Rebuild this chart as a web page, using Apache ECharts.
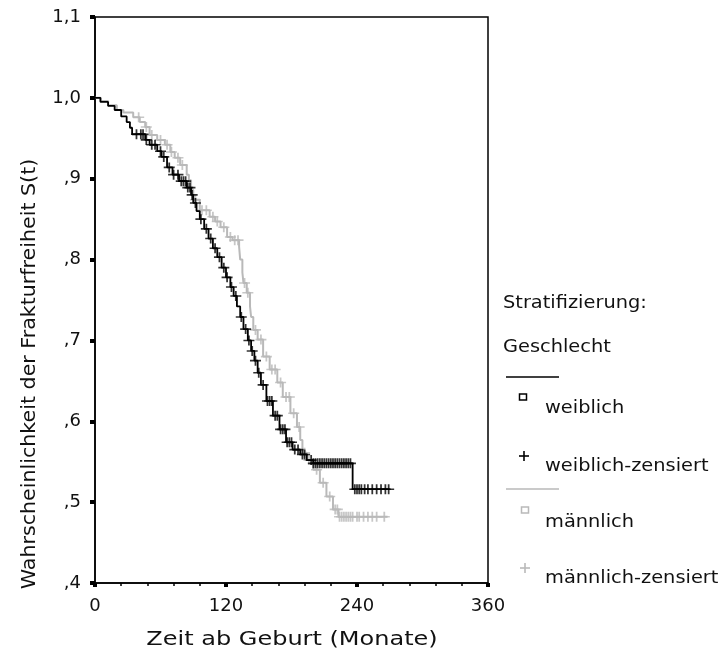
<!DOCTYPE html>
<html>
<head>
<meta charset="utf-8">
<script src="https://cdn.jsdelivr.net/npm/echarts@6/dist/echarts.min.js"></script>
<style>
  html, body { margin: 0; padding: 0; background: #fff; }
  #chart { width: 724px; height: 661px; }
</style>
</head>
<body>
<div id="chart"></div>
<script>
// Kaplan-Meier estimates of fracture-free survival, stratified by sex.
// Each pair of arrays: time of a step (months) and the survival level after it.
const femaleTimes = [0, 5, 12, 18, 24, 29, 32, 34, 46, 50, 57, 61, 66, 71, 77, 84, 88, 90, 93, 96,
  100, 104, 108, 112, 116, 120, 124, 127, 130, 133, 136, 140, 143, 146, 149, 152, 157, 163, 169,
  175, 181, 188, 194, 200, 236, 270];
const femaleSurv = [1.0, 0.995, 0.99, 0.985, 0.977, 0.97, 0.963, 0.955, 0.948, 0.942, 0.934, 0.927,
  0.914, 0.905, 0.897, 0.889, 0.88, 0.87, 0.86, 0.85, 0.838, 0.826, 0.814, 0.803, 0.79, 0.778,
  0.766, 0.755, 0.742, 0.729, 0.714, 0.70, 0.687, 0.675, 0.66, 0.645, 0.625, 0.607, 0.59, 0.574,
  0.565, 0.559, 0.552, 0.548, 0.516, 0.516];

const maleTimes = [0, 5, 12, 20, 26, 35, 41, 46, 50, 57, 64, 69, 73, 78, 84, 86, 88, 90, 96, 105,
  110, 115, 121, 126, 132, 133, 135, 136, 139, 142, 143, 145, 149, 154, 160, 167, 172, 179, 185,
  188, 190, 194, 200, 206, 212, 218, 223, 268];
const maleSurv = [1.0, 0.996, 0.991, 0.985, 0.982, 0.976, 0.97, 0.964, 0.954, 0.948, 0.942, 0.933,
  0.926, 0.917, 0.905, 0.898, 0.886, 0.874, 0.861, 0.853, 0.847, 0.84, 0.828, 0.824, 0.816, 0.80,
  0.784, 0.771, 0.759, 0.742, 0.729, 0.713, 0.701, 0.68, 0.664, 0.648, 0.63, 0.61, 0.593, 0.577,
  0.561, 0.552, 0.54, 0.524, 0.507, 0.491, 0.482, 0.482];

// Censoring times (months)
const femaleCensored = [38, 42, 44, 47, 52, 55, 60, 63, 68, 72, 76, 79, 81, 83, 85, 87, 89, 92, 97,
  102, 106, 110, 114, 118, 121, 125, 129, 134, 138, 141, 144, 147, 150, 154, 158, 160, 162, 165,
  167, 170, 172, 174, 176, 178, 180, 183, 186, 190, 192, 198, 200, 202, 204, 206, 208, 210, 212,
  214, 216, 218, 220, 222, 224, 226, 228, 230, 232, 234, 238, 240, 242, 244, 247, 250, 254, 258,
  262, 266, 269];
const maleCensored = [40, 47, 52, 60, 66, 70, 76, 80, 92, 98, 102, 108, 112, 118, 124, 128, 131, 137,
  140, 147, 152, 157, 162, 165, 170, 175, 178, 182, 187, 192, 196, 203, 209, 215, 220, 222, 224,
  226, 228, 230, 232, 234, 236, 240, 242, 246, 250, 254, 258, 265];

const seriesNames = ['weiblich', 'weiblich-zensiert', 'männlich', 'männlich-zensiert'];
const legendTitle = ['Stratifizierung:', 'Geschlecht'];
const xTicks = [0, 120, 240, 360];
const yRange = [0.4, 1.1];
const xTitle = 'Zeit ab Geburt (Monate)';
const yTitle = 'Wahrscheinlichkeit der Frakturfreiheit S(t)';

const BLACK = '#000000';
const GRAY = '#b9b9b9';
const INK = '#111111';
const FONT = 'DejaVu Sans';
const PLUS = 'path://M0,4.2H10V5.8H0Z M4.2,0H5.8V10H4.2Z';

function pairs(ts, ss) { return ts.map((t, i) => [t, ss[i]]); }
// survival level in effect at time t (step function lookup)
function levelAt(ts, ss, t) {
  let v = ss[0];
  for (let i = 0; i < ts.length; i++) { if (ts[i] <= t) v = ss[i]; }
  return v;
}
function censorPoints(cs, ts, ss) { return cs.map(t => [t, levelAt(ts, ss, t)]); }

function fmtY(v) {
  const s = v.toFixed(1).replace('.', ',');
  return v < 0.95 ? s.replace(/^0/, '') : s;
}

const chart = echarts.init(document.getElementById('chart'), null, { renderer: 'canvas' });

const legendX = 503;
function label(text, x, y) {
  return { type: 'text', x: x, y: y, scaleX: 1.14,
    style: { text: text, fontFamily: FONT, fontSize: 17, fill: INK, verticalAlign: 'middle' } };
}
function hline(x1, x2, y, color) {
  return { type: 'line', shape: { x1: x1, y1: y, x2: x2, y2: y }, style: { stroke: color, lineWidth: 1.5 } };
}
function plusIcon(cx, cy, color) {
  return [
    { type: 'line', shape: { x1: cx - 5, y1: cy, x2: cx + 5, y2: cy }, style: { stroke: color, lineWidth: 1.6 } },
    { type: 'line', shape: { x1: cx, y1: cy - 5, x2: cx, y2: cy + 5 }, style: { stroke: color, lineWidth: 1.6 } }
  ];
}
function squareIcon(cx, cy, color) {
  return { type: 'rect', shape: { x: cx - 3.5, y: cy - 3, width: 7, height: 6 }, style: { fill: '#fff', stroke: color, lineWidth: 1.5 } };
}

chart.setOption({
  backgroundColor: '#fff',
  animation: false,
  grid: { left: 95, top: 17, width: 393, height: 566, show: true, borderColor: '#000', borderWidth: 1.5, backgroundColor: 'transparent' },
  xAxis: {
    type: 'value', min: xTicks[0], max: xTicks[xTicks.length - 1], interval: 120,
    axisLine: { lineStyle: { color: '#000', width: 1.5 } },
    axisTick: { length: 4, lineStyle: { color: '#000', width: 4 } },
    minorTick: { show: true, splitNumber: 5, length: 3, lineStyle: { color: '#000', width: 1.5 } },
    axisLabel: { fontFamily: FONT, fontSize: 18, color: INK, margin: 14 },
    splitLine: { show: false }
  },
  yAxis: {
    type: 'value', min: yRange[0], max: yRange[1], interval: 0.1,
    axisLine: { lineStyle: { color: '#000', width: 1.5 } },
    axisTick: { length: 5, lineStyle: { color: '#000', width: 4 } },
    axisLabel: { fontFamily: FONT, fontSize: 18, color: INK, margin: 14, formatter: fmtY },
    splitLine: { show: false }
  },
  series: [
    { name: seriesNames[2], type: 'line', step: 'end', showSymbol: false, z: 2,
      lineStyle: { color: GRAY, width: 2 }, data: pairs(maleTimes, maleSurv) },
    { name: seriesNames[3], type: 'scatter', symbol: PLUS, symbolSize: [11, 10], z: 2,
      itemStyle: { color: GRAY }, data: censorPoints(maleCensored, maleTimes, maleSurv) },
    { name: seriesNames[0], type: 'line', step: 'end', showSymbol: false, z: 3,
      lineStyle: { color: BLACK, width: 1.8 }, data: pairs(femaleTimes, femaleSurv) },
    { name: seriesNames[1], type: 'scatter', symbol: PLUS, symbolSize: [11, 10], z: 3,
      itemStyle: { color: BLACK }, data: censorPoints(femaleCensored, femaleTimes, femaleSurv) }
  ],
  graphic: [
    { type: 'text', x: 30, y: 374, rotation: Math.PI / 2, scaleX: 1.03,
      style: { text: yTitle, fontFamily: FONT, fontSize: 20, fill: INK, align: 'center', verticalAlign: 'middle' } },
    { type: 'text', x: 292, y: 640, scaleX: 1.2,
      style: { text: xTitle, fontFamily: FONT, fontSize: 20, fill: INK, align: 'center', verticalAlign: 'middle' } },
    label(legendTitle[0], legendX, 304),
    label(legendTitle[1], legendX, 348),
    hline(506, 559, 377, BLACK),
    squareIcon(523, 397, BLACK),
    label(seriesNames[0], 545, 409),
    ...plusIcon(524, 456, BLACK),
    label(seriesNames[1], 545, 467),
    hline(506, 559, 489, GRAY),
    squareIcon(525, 510, GRAY),
    label(seriesNames[2], 545, 523),
    ...plusIcon(525, 568, GRAY),
    label(seriesNames[3], 545, 579)
  ]
});
</script>
</body>
</html>
